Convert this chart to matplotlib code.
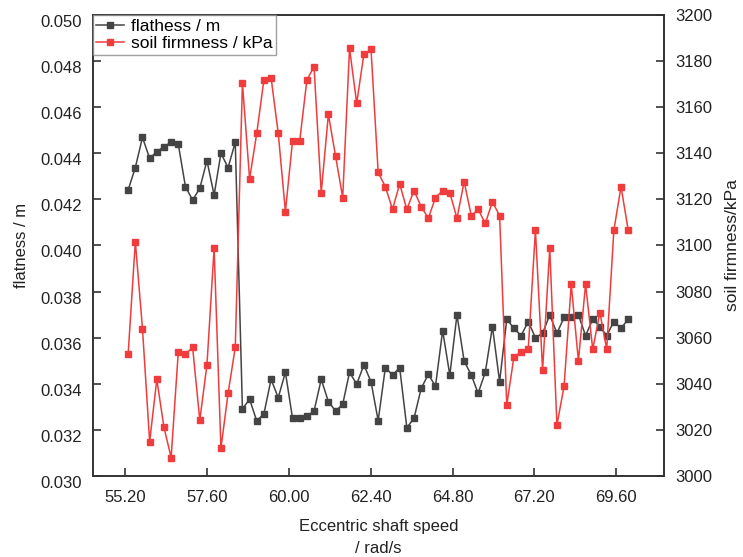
import numpy as np
import matplotlib
matplotlib.use("Agg")
import matplotlib.pyplot as plt
from matplotlib.ticker import FormatStrFormatter

plt.rcParams['font.family'] = ['Liberation Sans', 'DejaVu Sans']

# eccentric shaft speed, rad/s
speed = [55.29, 55.50, 55.71, 55.92, 56.13, 56.34, 56.55, 56.76, 56.97, 57.18,
         57.39, 57.60, 57.81, 58.01, 58.22, 58.43, 58.64, 58.85, 59.06, 59.27,
         59.48, 59.69, 59.90, 60.11, 60.32, 60.53, 60.74, 60.95, 61.16, 61.37,
         61.58, 61.78, 61.99, 62.20, 62.41, 62.62, 62.83, 63.04, 63.25, 63.46,
         63.67, 63.88, 64.09, 64.30, 64.51, 64.72, 64.93, 65.14, 65.35, 65.55,
         65.76, 65.97, 66.18, 66.39, 66.60, 66.81, 67.02, 67.23, 67.44, 67.65,
         67.86, 68.07, 68.28, 68.49, 68.70, 68.91, 69.12, 69.32, 69.53, 69.74,
         69.95]

flatness = [0.04241, 0.04338, 0.04469, 0.04378, 0.04407, 0.04429, 0.04448, 0.04439,
            0.04255, 0.04197, 0.04248, 0.04368, 0.04219, 0.04400, 0.04338, 0.04448,
            0.03291, 0.03333, 0.03239, 0.03270, 0.03419, 0.03340, 0.03450, 0.03250,
            0.03250, 0.03260, 0.03282, 0.03419, 0.03323, 0.03282, 0.03311, 0.03450,
            0.03398, 0.03482, 0.03409, 0.03240, 0.03470, 0.03438, 0.03470, 0.03210,
            0.03250, 0.03380, 0.03441, 0.03390, 0.03631, 0.03438, 0.03699, 0.03499,
            0.03438, 0.03359, 0.03450, 0.03648, 0.03409, 0.03680, 0.03641, 0.03609,
            0.03670, 0.03600, 0.03619, 0.03699, 0.03619, 0.03688, 0.03688, 0.03699,
            0.03609, 0.03680, 0.03648, 0.03609, 0.03670, 0.03641, 0.03680]

firmness = [3052.9, 3101.7, 3063.9, 3014.9, 3041.9, 3021.1, 3008.0, 3053.9, 3052.9, 3055.8,
            3024.2, 3048.2, 3098.8, 3012.0, 3035.9, 3055.8, 3170.4, 3128.9, 3148.7, 3171.8,
            3172.8, 3148.7, 3114.7, 3145.5, 3145.5, 3171.8, 3177.6, 3122.9, 3156.9, 3138.8,
            3120.8, 3185.5, 3161.7, 3182.9, 3185.1, 3131.7, 3125.5, 3115.7, 3126.7, 3115.7,
            3123.8, 3116.9, 3111.8, 3120.8, 3123.8, 3122.9, 3111.8, 3127.7, 3112.9, 3115.7,
            3109.6, 3119.0, 3112.9, 3030.8, 3051.8, 3053.7, 3055.0, 3106.7, 3046.0, 3098.8,
            3022.1, 3039.0, 3083.2, 3049.9, 3083.2, 3055.0, 3070.9, 3055.0, 3106.7, 3125.5,
            3106.7]

xticks = [55.2, 57.6, 60.0, 62.4, 64.8, 67.2, 69.6]

GRAY = '#444444'
RED = '#f03c3c'

fig = plt.figure(figsize=(7.43, 5.57), dpi=100)
ax = fig.add_axes([0.1252, 0.1454, 0.7685, 0.8277])
ax2 = ax.twinx()

l1, = ax.plot(speed, flatness, color=GRAY, lw=1.1, marker='s', ms=4.5,
              mec=GRAY, mfc=GRAY, label='flathess / m')
l2, = ax2.plot(speed, firmness, color=RED, lw=1.1, marker='s', ms=4.5,
               mec=RED, mfc=RED, label='soil firmness / kPa')

ax.set_xlim(54.26, 71.0)
ax.set_ylim(0.030, 0.050)
ax2.set_ylim(3000, 3200)
ax.set_xticks(xticks)
ax.set_yticks(np.linspace(0.030, 0.050, 11))
ax2.set_yticks(np.arange(3000, 3201, 20))
ax.xaxis.set_major_formatter(FormatStrFormatter('%.2f'))
ax.yaxis.set_major_formatter(FormatStrFormatter('%.3f'))

for a in (ax, ax2):
    for s in a.spines.values():
        s.set_linewidth(1.2)
        s.set_color('#333333')
ax.tick_params(axis='both', direction='in', length=6, width=1.1, labelsize=12,
               colors='#222222', top=False, right=False)
ax.tick_params(axis='x', pad=10)
ax.tick_params(axis='y', pad=8)
ax2.tick_params(axis='y', direction='in', length=6, width=1.1, labelsize=12,
                colors='#222222', pad=8)
# left labels sit a little below their ticks in the original
for lab in ax.get_yticklabels():
    lab.set_verticalalignment('top')

ax.set_xlabel('Eccentric shaft speed\n/ rad/s', fontsize=12, color='#222222',
              linespacing=1.6, labelpad=10)
ax.set_ylabel('flatness / m', fontsize=12, color='#222222', labelpad=8)
ax2.set_ylabel('soil firmness/kPa', fontsize=12.5, color='#222222', labelpad=9)

leg = ax2.legend([l1, l2], [l1.get_label(), l2.get_label()], loc='upper left',
                 fontsize=12.5, frameon=True, fancybox=False, borderpad=0.2,
                 handlelength=1.6, handletextpad=0.4, labelspacing=0.15,
                 borderaxespad=0.0)
leg.get_frame().set_edgecolor('#888888')
leg.get_frame().set_linewidth(1.0)

fig.savefig('out.png', dpi=100)
